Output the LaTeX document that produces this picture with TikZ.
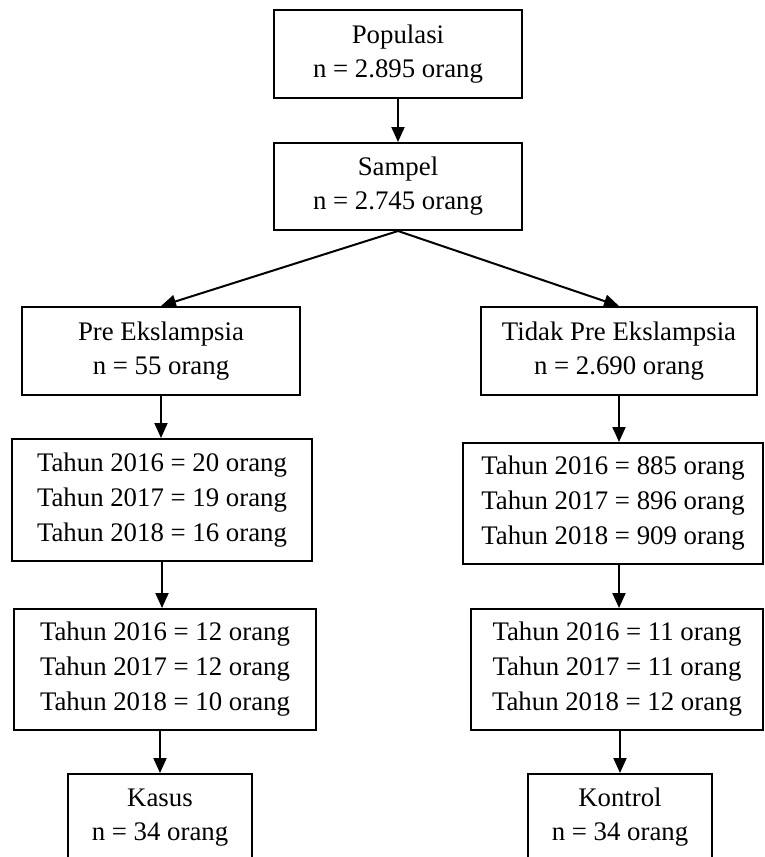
\documentclass[tikz,border=0pt]{standalone}
\usepackage{fontspec}
\setmainfont{Liberation Serif}
\usetikzlibrary{arrows.meta}
\begin{document}
\begin{tikzpicture}[x=1pt,y=-1pt,
  box/.style={draw, line width=2pt, align=center, inner sep=0pt,
    font=\fontsize{26.8}{34}\selectfont},
  tribox/.style={box, font=\fontsize{26.8}{35}\selectfont},
  arr/.style={line width=2pt, -{Triangle[length=15pt,width=13pt]}}]
\useasboundingbox (0,0) rectangle (764,857);
\clip (0,0) rectangle (764,857);
\fill[white] (0,0) rectangle (764,857);
% top
\node[box, minimum width=248pt, minimum height=88pt] (pop) at (398,54) {Populasi\\n = 2.895 orang};
\node[box, minimum width=248pt, minimum height=87pt] (samp) at (398,186.5) {Sampel\\n = 2.745 orang};
% level 2
\node[box, minimum width=278pt, minimum height=88pt] (pre) at (161,351) {Pre Ekslampsia\\n = 55 orang};
\node[box, minimum width=276pt, minimum height=88pt] (tidak) at (619,351) {Tidak Pre Ekslampsia\\n = 2.690 orang};
% level 3
\node[tribox, minimum width=300pt, minimum height=122pt] (ly1) at (162,500) {Tahun 2016 = 20 orang\\Tahun 2017 = 19 orang\\Tahun 2018 = 16 orang};
\node[tribox, minimum width=300pt, minimum height=121pt] (ry1) at (613,503.5) {Tahun 2016 = 885 orang\\Tahun 2017 = 896 orang\\Tahun 2018 = 909 orang};
% level 4
\node[tribox, minimum width=302pt, minimum height=121pt] (ly2) at (165,669.5) {Tahun 2016 = 12 orang\\Tahun 2017 = 12 orang\\Tahun 2018 = 10 orang};
\node[tribox, minimum width=292pt, minimum height=121pt] (ry2) at (617,669.5) {Tahun 2016 = 11 orang\\Tahun 2017 = 11 orang\\Tahun 2018 = 12 orang};
% bottom
\node[box, minimum width=184pt, minimum height=87pt] (kasus) at (160,817.5) {Kasus\\n = 34 orang};
\node[box, minimum width=184pt, minimum height=87pt] (kontrol) at (620,817.5) {Kontrol\\n = 34 orang};
% connectors
\draw[arr] (pop.south) -- (samp.north);
\draw[arr] (samp.south) -- (pre.north);
\draw[arr] (samp.south) -- (tidak.north);
\draw[arr] (pre.south) -- (pre.south |- ly1.north);
\draw[arr] (ly1.south) -- (ly1.south |- ly2.north);
\draw[arr] (kasus.north |- ly2.south) -- (kasus.north);
\draw[arr] (tidak.south) -- (tidak.south |- ry1.north);
\draw[arr] (tidak.south |- ry1.south) -- (tidak.south |- ry2.north);
\draw[arr] (kontrol.north |- ry2.south) -- (kontrol.north);
\end{tikzpicture}
\end{document}
